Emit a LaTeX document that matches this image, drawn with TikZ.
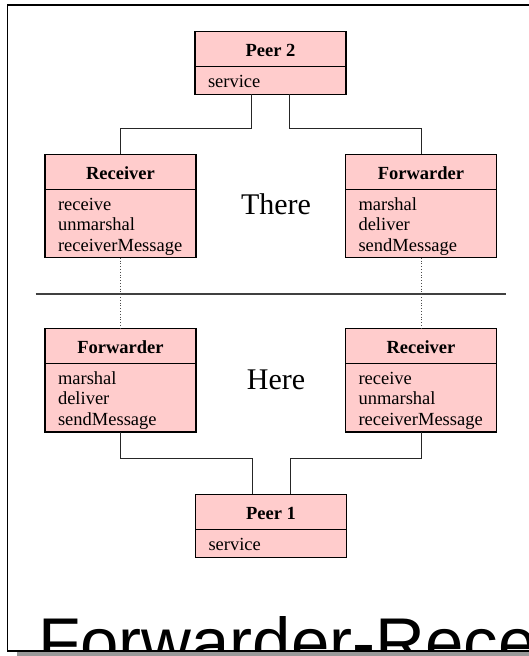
\documentclass[tikz,border=0pt]{standalone}
\usepackage{fontspec}
\setmainfont{Liberation Serif}
\newfontfamily\slidefont{Liberation Sans}
\usetikzlibrary{positioning}
\definecolor{boxpink}{HTML}{FFCCCC}

\begin{document}
\begin{tikzpicture}[
    x=1pt, y=-1pt,
    node distance=0pt,
    every node/.style={font=\fontsize{18.5}{20.5}\selectfont},
    head/.style={draw, line width=1.2pt, fill=boxpink, outer sep=0pt, inner sep=0pt, minimum width=151pt, minimum height=35pt, text height=15pt, text depth=0pt, font=\fontsize{18.5}{20.5}\selectfont\bfseries},
    ops/.style={draw, line width=1.2pt, fill=boxpink, outer sep=0pt, inner xsep=13pt, inner ysep=0pt, text width=125pt, align=left, text height=21pt, text depth=#1},
    link/.style={draw=black!85, line width=1pt},
    peek/.style={draw=black!70, line width=0.8pt, dotted}
]
\useasboundingbox (0,0) rectangle (528,656);

% slide frame and cut-off title
\fill[gray!80] (16.7,652) rectangle (540,657);
\begin{scope}
  \clip (7.5,5) rectangle (540,651);
  \node[font=\slidefont\fontsize{69}{80}\selectfont, anchor=base west, inner sep=0pt] (title) at (38,666) {Forwarder-Receiver};
\end{scope}
\draw[line width=1.5pt] (540,5) -- (7.5,5) -- (7.5,651) -- (540,651);

% peers
\node[head] (peerTwo) at (270.5,48.9) {Peer 2};
\node[ops=6.7pt, below=of peerTwo] (peerTwoOps) {service};
\node[head] (peerOne) at (271,511.9) {Peer 1};
\node[ops=6.7pt, below=of peerOne] (peerOneOps) {service};

% there
\node[head] (thereRecv) at (120.5,171.6) {Receiver};
\node[ops=47.7pt, below=of thereRecv] (thereRecvOps) {receive\\unmarshal\\receiverMessage};
\node[head] (thereFwd) at (421,171.6) {Forwarder};
\node[ops=47.7pt, below=of thereFwd] (thereFwdOps) {marshal\\deliver\\sendMessage};
\node[font=\fontsize{30}{36}\selectfont, anchor=base] (there) at (276,214) {There};

% here
\node[head] (hereFwd) at (120.5,345.8) {Forwarder};
\node[ops=47.7pt, below=of hereFwd] (hereFwdOps) {marshal\\deliver\\sendMessage};
\node[head] (hereRecv) at (421,345.8) {Receiver};
\node[ops=47.7pt, below=of hereRecv] (hereRecvOps) {receive\\unmarshal\\receiverMessage};
\node[font=\fontsize{30}{36}\selectfont, anchor=base] (here) at (276,389.3) {Here};

% divider between there and here
\coordinate (sepL) at (35.7,294);
\coordinate (sepR) at (505.7,294);
\draw[draw=black!75, line width=1.3pt] (sepL) -- (sepR);

\draw[peek] (thereRecvOps.south) -- (hereFwd.north);
\draw[peek] (thereFwdOps.south) -- (hereRecv.north);

\draw[link] ([xshift=-19pt]peerTwoOps.south) |- ([yshift=26pt]thereRecv.north) -- (thereRecv.north);
\draw[link] ([xshift=19pt]peerTwoOps.south) |- ([yshift=26pt]thereFwd.north) -- (thereFwd.north);
\draw[link] (hereFwdOps.south) -- ++(0,26) -| ([xshift=-19pt]peerOne.north);
\draw[link] (hereRecvOps.south) -- ++(0,26) -| ([xshift=19pt]peerOne.north);
\end{tikzpicture}
\end{document}
